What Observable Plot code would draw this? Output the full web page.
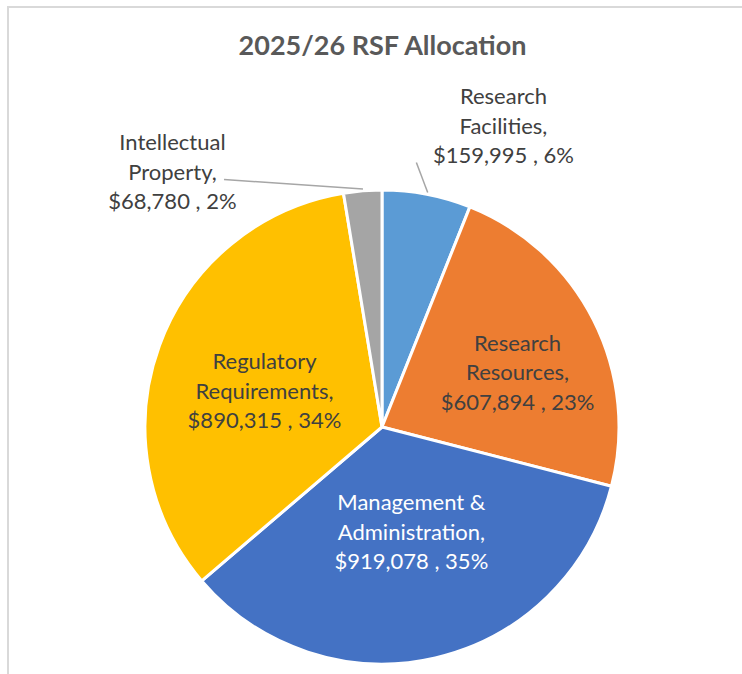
<!DOCTYPE html>
<html><head><meta charset="utf-8">
<script src="https://cdn.jsdelivr.net/npm/d3@7"></script>
<script src="https://cdn.jsdelivr.net/npm/@observablehq/plot@0.6"></script>
<style>
body{margin:0;background:#fff;}
#wrap{position:relative;width:742px;height:674px;overflow:hidden;}
#border{position:absolute;left:7px;top:6px;width:800px;height:800px;border:2px solid #d9d9d9;box-sizing:border-box;}
#chart{position:absolute;left:0;top:0;}
</style></head><body>
<div id="wrap"><div id="border"></div><div id="chart"></div></div>
<script>
// ---- data ----
const title = "2025/26 RSF Allocation";
const categories = ["Research Facilities", "Research Resources", "Management & Administration", "Regulatory Requirements", "Intellectual Property"];
const labelNames = ["Research\nFacilities,", "Research\nResources,", "Management &\nAdministration,", "Regulatory\nRequirements,", "Intellectual\nProperty,"];
const amounts = [159995, 607894, 919078, 890315, 68780];
const percents = [6, 23, 35, 34, 2];

// ---- styles / layout ----
const sliceColors = ["#5B9BD5", "#ED7D31", "#4472C4", "#FFC000", "#A5A5A5"];
const labelRadius = [1.369, 0.615, 0.459, 0.521, 1.394];
const labelAngleShift = [11, 4.8, -2.4, -3, -34.8];
const whiteLabel = [false, false, true, false, false];
const leaderEnd = [[1.127, -3.6], null, null, null, [1.242, -27.9]];
const FONT = "Lato, 'Open Sans', sans-serif";

const fmt = d3.format("$,");
const rows = categories.map((c, i) => ({
  category: c,
  value: amounts[i],
  label: `${labelNames[i]}\n${fmt(amounts[i])} , ${percents[i]}%`
}));

const arcs = d3.pie().sort(null).value(d => d.value)(rows);
const rad = deg => deg * Math.PI / 180;
const polar = (angle, r) => ({px: r * Math.sin(angle), py: r * Math.cos(angle)});

arcs.forEach((a, i) => {
  const mid = (a.startAngle + a.endAngle) / 2;
  const p = polar(mid + rad(labelAngleShift[i]), labelRadius[i]);
  a.data.lx = p.px; a.data.ly = p.py; a.data.white = whiteLabel[i];
  if (leaderEnd[i]) {
    const s = polar(mid, 1.01);
    const e = polar(mid + rad(leaderEnd[i][1]), leaderEnd[i][0]);
    a.data.leader = {x1: s.px, y1: s.py, x2: e.px, y2: e.py};
  }
});
const labels = arcs.map(a => a.data);
const leaders = labels.filter(d => d.leader).map(d => d.leader);

const color = Plot.scale({color: {type: "ordinal", domain: categories, range: sliceColors}});

function pieMark(index, scales) {
  const cx = scales.x(0), cy = scales.y(0), r = scales.x(1) - scales.x(0);
  const g = d3.create("svg:g").attr("transform", `translate(${cx},${cy})`);
  const arc = d3.arc().innerRadius(0).outerRadius(r);
  g.selectAll("path").data(arcs).join("path")
    .attr("d", arc)
    .attr("fill", d => color.apply(d.data.category))
    .attr("stroke", "#fff")
    .attr("stroke-width", 3)
    .attr("stroke-linejoin", "round");
  return g.node();
}

const chart = Plot.plot({
  width: 742,
  height: 674,
  margin: 0,
  style: {background: "transparent", fontFamily: FONT},
  x: {domain: [-1, 1], range: [145, 619], axis: null},
  y: {domain: [-1, 1], range: [664, 190], axis: null},
  marks: [
    pieMark,
    Plot.link(leaders, {x1: "x1", y1: "y1", x2: "x2", y2: "y2", stroke: "#A6A6A6", strokeWidth: 1.5}),
    Plot.text(labels.filter(d => !d.white), {x: "lx", y: "ly", text: "label", fill: "#404040", fontSize: 22, lineHeight: 1.34, lineAnchor: "middle", dy: -2, fontFamily: FONT}),
    Plot.text(labels.filter(d => d.white), {x: "lx", y: "ly", text: "label", fill: "#ffffff", fontSize: 22, lineHeight: 1.34, lineAnchor: "middle", dy: -2, fontFamily: FONT}),
    Plot.text([title], {x: 0, frameAnchor: "top", dy: 46, text: d => d, fill: "#595959", fontSize: 27, fontWeight: "bold", lineAnchor: "middle", fontFamily: FONT})
  ]
});
document.getElementById("chart").appendChild(chart);
</script>
</body></html>
